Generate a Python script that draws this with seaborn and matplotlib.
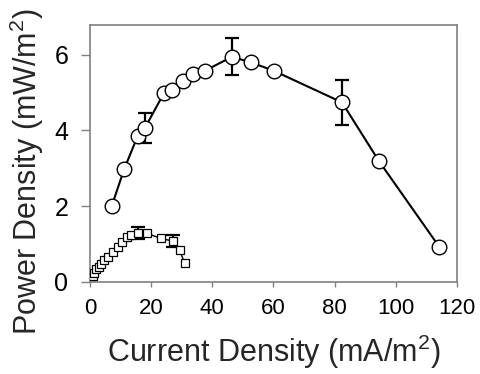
import matplotlib
matplotlib.use("Agg")
import matplotlib.pyplot as plt
import seaborn as sns
import pandas as pd

# Data
circle_x = [7.1, 11.2, 15.6, 18.0, 24.3, 26.9, 30.3, 33.8, 37.7, 46.4, 52.5, 60.2, 82.4, 94.5, 114.2]
circle_y = [2.00, 2.98, 3.85, 4.07, 5.00, 5.07, 5.30, 5.49, 5.58, 5.94, 5.80, 5.57, 4.74, 3.19, 0.93]
circle_err_x = [18.0, 46.4, 82.4]
circle_err_y = [4.07, 5.94, 4.74]
circle_err = [0.39, 0.49, 0.59]

square_x = [0.86, 1.4, 2.06, 2.8, 3.6, 4.7, 5.8, 7.4, 9.05, 10.5, 12.1, 13.4, 15.6, 18.5, 23.1, 27.1, 29.3, 31.0]
square_y = [0.16, 0.25, 0.33, 0.40, 0.48, 0.57, 0.65, 0.79, 0.93, 1.06, 1.18, 1.24, 1.29, 1.29, 1.15, 1.08, 0.84, 0.49]
square_err_x = [15.6, 27.1]
square_err_y = [1.29, 1.08]
square_err = [0.16, 0.16]

x_ticks = [0, 20, 40, 60, 80, 100, 120]
y_ticks = [0, 2, 4, 6]

sns.set_style("ticks")
plt.rcParams['font.family'] = ['Liberation Sans', 'DejaVu Sans']
plt.rcParams['mathtext.fontset'] = 'custom'
plt.rcParams['mathtext.rm'] = 'Liberation Sans'
plt.rcParams['mathtext.it'] = 'Liberation Sans'

fig = plt.figure(figsize=(4.81, 3.74), dpi=100)
ax = fig.add_axes([0.187, 0.246, 0.763, 0.687])

df_c = pd.DataFrame({'x': circle_x, 'y': circle_y})
df_s = pd.DataFrame({'x': square_x, 'y': square_y})

ax.errorbar(circle_err_x, circle_err_y, yerr=circle_err, fmt='none', ecolor='black',
            elinewidth=1.6, capsize=5, capthick=1.6, zorder=1)
ax.errorbar(square_err_x, square_err_y, yerr=square_err, fmt='none', ecolor='black',
            elinewidth=1.6, capsize=5, capthick=1.6, zorder=1)

sns.lineplot(data=df_c, x='x', y='y', ax=ax, sort=False, color='black', linewidth=1.5,
             marker='o', markersize=10.5, markerfacecolor='white', markeredgecolor='black',
             markeredgewidth=1.0, zorder=3)
sns.lineplot(data=df_s, x='x', y='y', ax=ax, sort=False, color='black', linewidth=1.0,
             marker='s', markersize=5.5, markerfacecolor='white', markeredgecolor='black',
             markeredgewidth=0.9, zorder=3)

ax.set_xlim(0, 120)
ax.set_ylim(0, 6.78)
ax.set_xticks(x_ticks)
ax.set_yticks(y_ticks)
ax.set_xticklabels([str(v) for v in x_ticks])
ax.set_yticklabels([str(v) for v in y_ticks])

for s in ax.spines.values():
    s.set_visible(True)
    s.set_color('#808080')
    s.set_linewidth(1.2)
ax.tick_params(axis='x', direction='out', length=3.6, width=1, color='#808080',
               labelsize=16, pad=8, labelcolor='black')
ax.tick_params(axis='y', direction='out', length=6.5, width=1, color='#808080',
               labelsize=18, pad=9, labelcolor='black')

ax.set_xlabel('Current Density (mA/m$^2$)', fontsize=22, labelpad=10)
ax.set_ylabel('Power Density (mW/m$^2$)', fontsize=22)
ax.yaxis.set_label_coords(-0.12, 0.43)

fig.savefig('out.png', dpi=100)
